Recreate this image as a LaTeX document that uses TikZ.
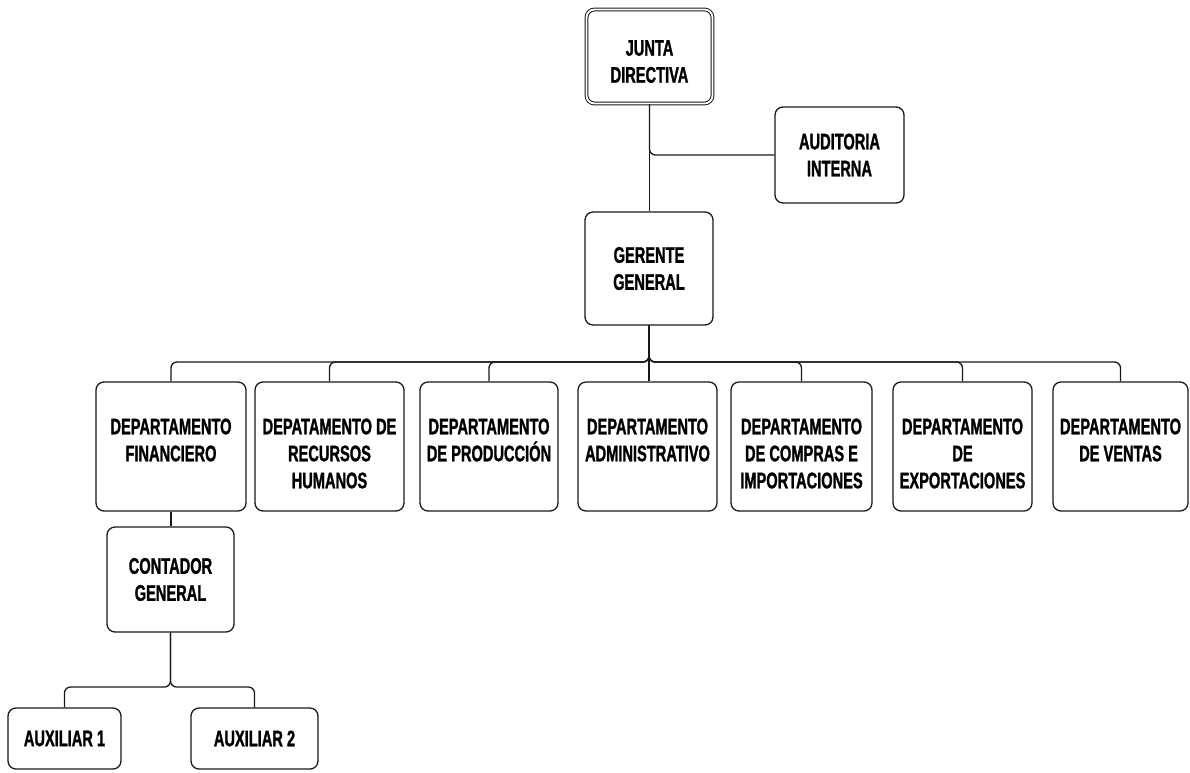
\documentclass[tikz,border=0pt]{standalone}
\usepackage{fontspec}
\newfontfamily\orgfont{Liberation Sans}[FakeStretch=0.65, BoldFeatures={FakeBold=1.2}]
\begin{document}
\begin{tikzpicture}[x=1pt,y=-1pt]
\tikzset{
  orgfnt/.style={font=\orgfont\bfseries\fontsize{22.5}{27}\selectfont},
  orgbox/.style={draw=black!90, line width=1.3pt, rounded corners=8pt, inner sep=0pt, align=center, orgfnt},
  orgtext/.style={inner sep=0pt, align=center, anchor=north, orgfnt},
  link/.style={draw=black!90, line width=1.3pt, rounded corners=6pt},
  dept/.style={orgbox, minimum height=129pt}
}
\useasboundingbox[fill=white] (0,0) rectangle (1190,772);

% top
\node[orgbox, double, double distance=1.8pt, line width=1pt, minimum width=126pt, minimum height=94pt] (jd) at (649.5,56.5) {};
\node[orgtext] (jd-t) at ([yshift=-31pt]jd.north) {JUNTA\\DIRECTIVA};
\node[orgbox, minimum width=129pt, minimum height=96pt] (ai) at (839.5,155) {AUDITORIA\\INTERNA};
\node[orgbox, minimum width=128pt, minimum height=113pt] (gg) at (649,268.5) {GERENTE\\GENERAL};

% departments
\node[dept, minimum width=150pt] (fin) at (171,446.5) {};
\node[dept, minimum width=149pt] (rh) at (329.5,446.5) {};
\node[dept, minimum width=138pt] (prod) at (489,446.5) {};
\node[dept, minimum width=139pt] (adm) at (647.5,446.5) {};
\node[dept, minimum width=141pt] (comp) at (801.5,446.5) {};
\node[dept, minimum width=139pt] (exp) at (962.5,446.5) {};
\node[dept, minimum width=135pt] (ven) at (1120.5,446.5) {};

\node[orgtext] (fin-t) at ([yshift=-37pt]fin.north) {DEPARTAMENTO\\FINANCIERO};
\node[orgtext] (rh-t) at ([yshift=-37pt]rh.north) {DEPATAMENTO DE\\RECURSOS\\HUMANOS};
\node[orgtext] (prod-t) at ([yshift=-37pt]prod.north) {DEPARTAMENTO\\DE PRODUCCIÓN};
\node[orgtext] (adm-t) at ([yshift=-37pt]adm.north) {DEPARTAMENTO\\ADMINISTRATIVO};
\node[orgtext] (comp-t) at ([yshift=-37pt]comp.north) {DEPARTAMENTO\\DE COMPRAS E\\IMPORTACIONES};
\node[orgtext] (exp-t) at ([yshift=-37pt]exp.north) {DEPARTAMENTO\\DE\\EXPORTACIONES};
\node[orgtext] (ven-t) at ([yshift=-37pt]ven.north) {DEPARTAMENTO\\DE VENTAS};

% lower
\node[orgbox, minimum width=127pt, minimum height=105pt] (cg) at (170.5,579.5) {CONTADOR\\GENERAL};
\node[orgbox, minimum width=113pt, minimum height=61pt] (aux1) at (64.5,738.5) {AUXILIAR 1};
\node[orgbox, minimum width=127pt, minimum height=61pt] (aux2) at (254.5,738.5) {AUXILIAR 2};

% connectors
\coordinate (bus) at (649,362);
\coordinate (cgbus) at (170.5,687);
\draw[link] (jd.south) -- (jd.south |- gg.north);
\draw[link] (jd.south) |- (ai.west);
\draw[link] (gg.south) -- (gg.south |- adm.north);
\foreach \c in {fin,rh,prod,comp,exp,ven}{
  \draw[link] (gg.south) |- (bus -| \c.north) -- (\c.north);
}
\draw[link] (fin.south) -- (fin.south |- cg.north);
\draw[link] (cg.south) |- (cgbus -| aux1.north) -- (aux1.north);
\draw[link] (cg.south) |- (cgbus -| aux2.north) -- (aux2.north);
\end{tikzpicture}
\end{document}
